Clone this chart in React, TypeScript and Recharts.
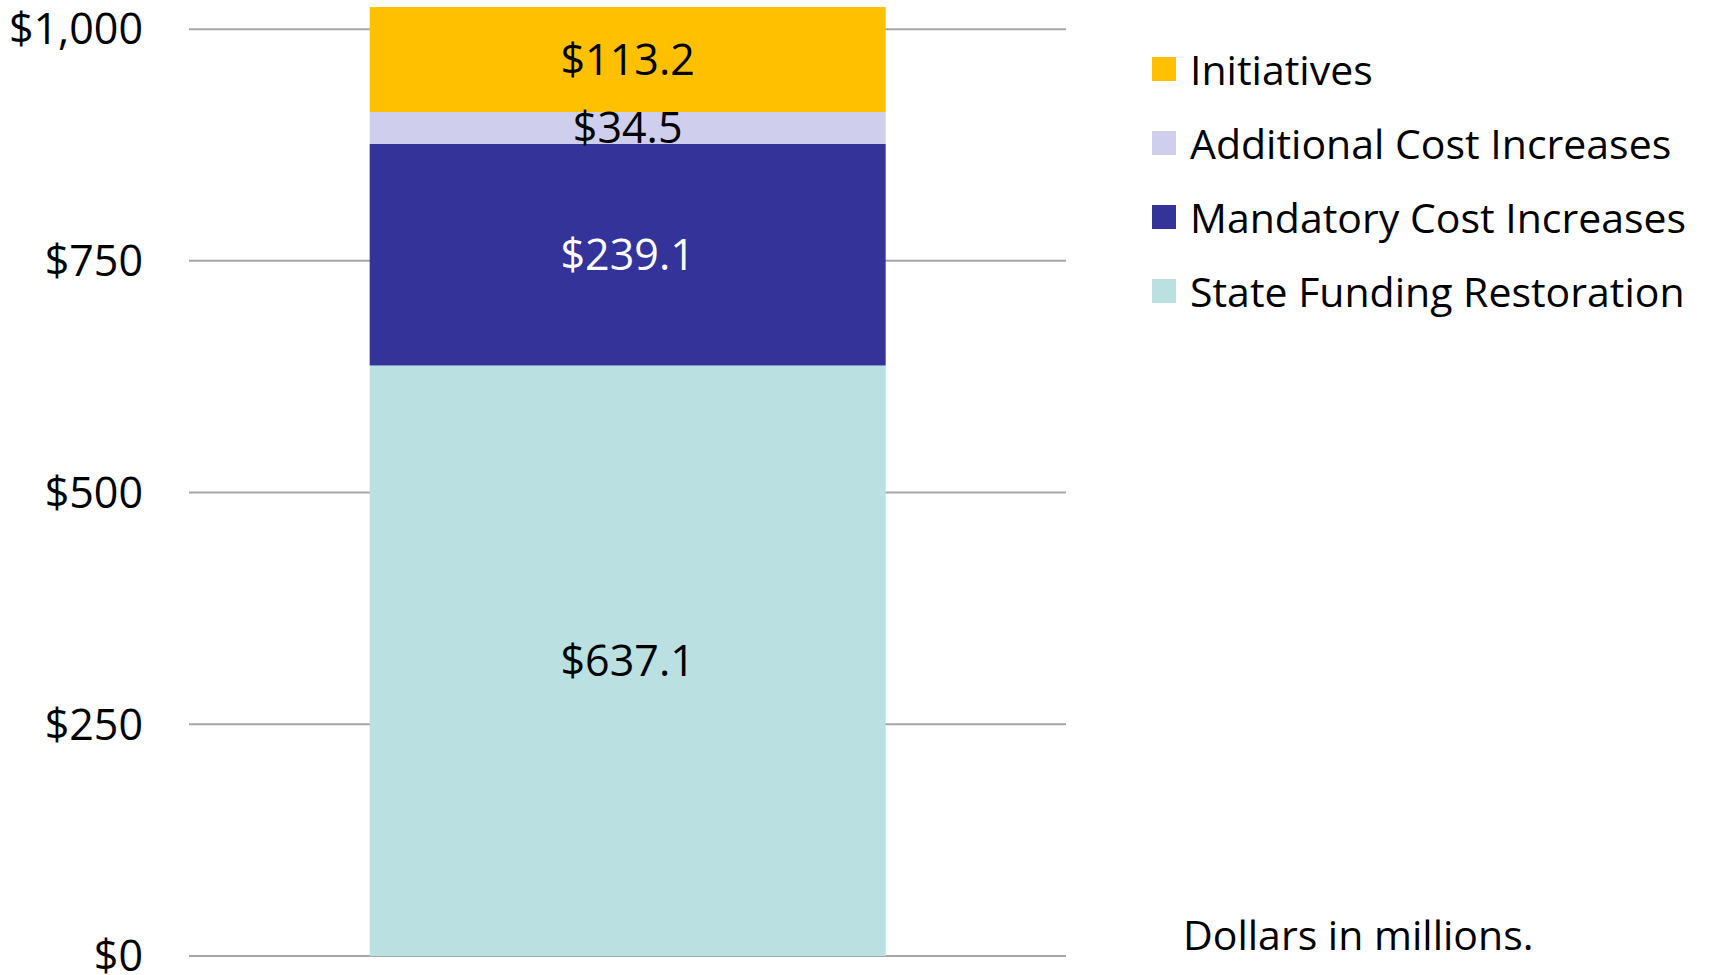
import React from 'react';
import { BarChart, Bar, XAxis, YAxis, CartesianGrid, Legend, LabelList } from 'recharts';

const categories = ['Budget Request'];
const stateFundingRestoration = [637.1];
const mandatoryCostIncreases = [239.1];
const additionalCostIncreases = [34.5];
const initiatives = [113.2];
const yTicks = [0, 250, 500, 750, 1000];

// stacking order, bottom to top
const seriesNames = [
  'State Funding Restoration',
  'Mandatory Cost Increases',
  'Additional Cost Increases',
  'Initiatives',
];
const seriesColors = ['#BAE0E2', '#333399', '#CFCFED', '#FFC000'];
const labelColors = ['#000000', '#FFFFFF', '#000000', '#000000'];

const data = categories.map((category, i) => ({
  category,
  'State Funding Restoration': stateFundingRestoration[i],
  'Mandatory Cost Increases': mandatoryCostIncreases[i],
  'Additional Cost Increases': additionalCostIncreases[i],
  Initiatives: initiatives[i],
}));

const FONT = '"Open Sans", Calibri, sans-serif';
const LEGEND_W = 560;

const money = (v: number) => '$' + Number(v).toLocaleString('en-US');

function LegendBox() {
  // legend reads top to bottom in reverse stacking order
  const order = [...seriesNames].reverse();
  return (
    <div style={{ fontFamily: FONT, fontSize: 41, color: '#000' }}>
      {order.map((name) => {
        const idx = seriesNames.indexOf(name);
        return (
          <div key={name} style={{ height: 74, display: 'flex', alignItems: 'center', whiteSpace: 'nowrap' }}>
            <span
              style={{
                display: 'inline-block',
                width: 24,
                height: 24,
                background: seriesColors[idx],
                marginRight: 14,
              }}
            />
            <span>{name}</span>
          </div>
        );
      })}
    </div>
  );
}

export default function App() {
  return (
    <div style={{ position: 'absolute', left: 0, top: 0, width: 1715, height: 975, background: '#fff' }}>
      <BarChart
        width={1715}
        height={975}
        data={data}
        margin={{ top: 7, right: 649 - LEGEND_W, bottom: 19, left: 0 }}
        barCategoryGap="20.6%"
      >
        <CartesianGrid
          horizontal
          vertical={false}
          stroke="#A6A6A6"
          strokeWidth={2}
          horizontalValues={yTicks}
        />
        <XAxis dataKey="category" hide />
        <YAxis
          width={189}
          domain={[0, 'dataMax']}
          ticks={yTicks}
          interval={0}
          tickFormatter={money}
          axisLine={false}
          tickLine={false}
          tickSize={0}
          tickMargin={46}
          tick={{ fill: '#000', fontSize: 43, fontFamily: FONT }}
        />
        <Legend
          layout="vertical"
          align="right"
          verticalAlign="top"
          content={() => <LegendBox />}
          wrapperStyle={{ position: 'absolute', left: 1152, top: 32, width: LEGEND_W, right: 'auto' }}
        />
        {seriesNames.map((name, idx) => (
          <Bar key={name} dataKey={name} stackId="a" fill={seriesColors[idx]} isAnimationActive={false}>
            <LabelList
              dataKey={name}
              position="center"
              formatter={(v: number) => '$' + Number(v).toFixed(1)}
              fill={labelColors[idx]}
              style={{ fontSize: 43, fontFamily: FONT }}
            />
          </Bar>
        ))}
      </BarChart>
      <div
        style={{
          position: 'absolute',
          left: 1183,
          top: 910,
          fontFamily: FONT,
          fontSize: 41,
          lineHeight: '48px',
          color: '#000',
          whiteSpace: 'nowrap',
        }}
      >
        Dollars in millions.
      </div>
    </div>
  );
}
